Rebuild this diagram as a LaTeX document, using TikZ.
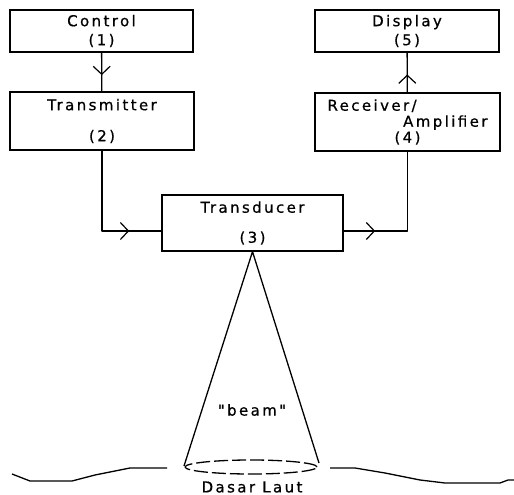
\documentclass[tikz,border=0pt]{standalone}
\usepackage{fontspec}
\newfontfamily\boxfont[LetterSpace=16,FakeBold=0.7]{DejaVu Sans}
\usetikzlibrary{calc,arrows.meta,decorations.markings}
\newcommand{\labelfont}{\boxfont\fontsize{15}{19}\selectfont}
\tikzset{
    block/.style={draw,line width=1.3pt,inner sep=0pt,align=center,font=\labelfont},
    link/.style={line width=1.3pt,line join=round},
    midarrow/.style={link,postaction={decorate},
        decoration={markings,mark=at position #1 with {\arrow{Straight Barb[length=8pt,width=17pt,line width=1.2pt]}}}},
}
\begin{document}
\begin{tikzpicture}[x=1pt,y=-1pt]
  \useasboundingbox (0,0) rectangle (514,495);
  % blocks
  \node[block,minimum width=183pt,minimum height=42pt] (control) at (101.5,31) {Control\\(1)};
  \node[block,minimum width=184pt,minimum height=58pt] (transmitter) at (102,121) {Transmitter\\[12pt](2)};
  \node[block,minimum width=184pt,minimum height=42pt] (display) at (407,31) {Display\\(5)};
  \node[block,minimum width=185pt,minimum height=58pt,text width=160pt,align=left,
        font=\boxfont\fontsize{15}{16}\selectfont] (receiver) at (407.5,122)
        {Receiver/\\\hfill Amplifier\\\hfill(4)\hfill\null};
  \node[block,minimum width=181pt,minimum height=56pt] (transducer) at (252.5,223) {Transducer\\[11pt](3)};
  \coordinate (txin) at ($(transducer.west)+(0,8)$);
  \coordinate (rxout) at ($(transducer.east)+(0,8)$);
  % signal path
  \draw[midarrow=0.58] (control) -- (transmitter);
  \draw[midarrow=0.77] (transmitter.south) |- (txin);
  \draw[midarrow=0.22] (rxout) -| (receiver.south);
  \draw[midarrow=0.45] (receiver) -- (display);
  % beam
  \coordinate (apex) at (transducer.south);
  \coordinate (spot) at (251,467);
  \draw[link] ($(spot)+(-67,-1)$) -- (apex) -- ($(spot)+(68,-4)$);
  \draw[link,dash pattern=on 14pt off 4pt] (spot) ellipse [x radius=66pt,y radius=7pt];
  \node[font=\labelfont] (beamlabel) at (252,410) {"beam"};
  % sea floor
  \draw[link] (12,474) -- (30,481) -- (72,481) -- (95,475) -- (130,468) -- (167,468);
  \draw[link] (330,468) -- (355,468) -- (385,473) -- (420,480) -- (445,483) -- (500,483) -- (508,480) -- (514,480);
  \node[font=\labelfont,inner sep=0pt] (seabed) at (252,487) {Dasar Laut};
\end{tikzpicture}
\end{document}
